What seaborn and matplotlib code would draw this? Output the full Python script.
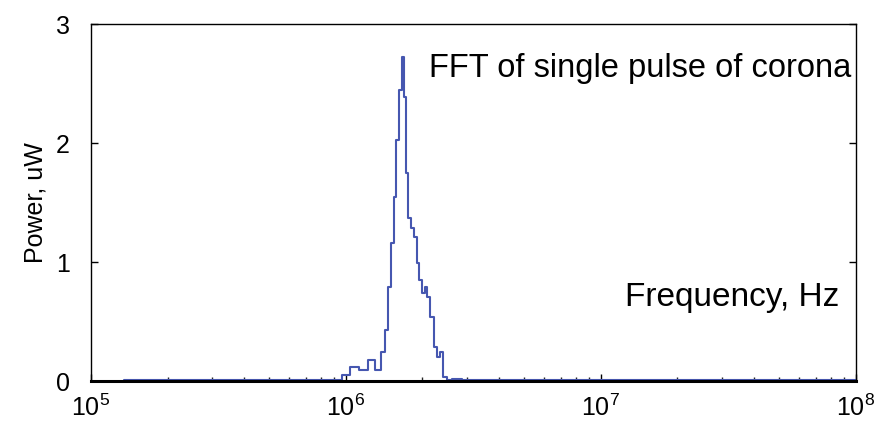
import numpy as np
import pandas as pd
import matplotlib
matplotlib.use('Agg')
import matplotlib.pyplot as plt
import seaborn as sns
from matplotlib.ticker import LogLocator, NullFormatter

# Spectrum (frequency in Hz, power in uW)
freq_hz = [1.35e5, 2.0e5, 3.0e5, 4.5e5, 6.0e5, 7.5e5, 8.5e5, 9.4e5,
           1.00e6, 1.08e6, 1.18e6, 1.26e6, 1.35e6, 1.41e6, 1.45e6, 1.48e6,
           1.52e6, 1.56e6, 1.60e6, 1.65e6, 1.68e6, 1.71e6, 1.74e6, 1.78e6,
           1.83e6, 1.88e6, 1.92e6, 1.97e6, 2.02e6, 2.06e6, 2.12e6, 2.17e6,
           2.25e6, 2.32e6, 2.38e6, 2.44e6, 2.53e6, 2.7e6, 3.0e6, 4.0e6,
           6.0e6, 1.0e7, 2.0e7, 4.0e7, 7.0e7, 1.0e8]
power_uw = [0.008, 0.008, 0.006, 0.008, 0.007, 0.006, 0.008, 0.01,
            0.05, 0.12, 0.09, 0.18, 0.09, 0.24, 0.43, 0.79,
            1.16, 1.55, 2.03, 2.45, 2.72, 2.39, 1.75, 1.37,
            1.29, 1.21, 0.99, 0.85, 0.74, 0.79, 0.71, 0.54,
            0.29, 0.20, 0.24, 0.03, 0.01, 0.02, 0.008, 0.006,
            0.005, 0.006, 0.005, 0.006, 0.005, 0.005]

df = pd.DataFrame({'freq': freq_hz, 'power': power_uw})

sns.set_theme(style='ticks')
plt.rcParams['font.family'] = ['Liberation Sans', 'DejaVu Sans']
plt.rcParams['mathtext.default'] = 'regular'

fig = plt.figure(figsize=(8.82, 4.32), dpi=100)
ax = fig.add_axes([0.103, 0.118, 0.867, 0.826])

sns.lineplot(data=df, x='freq', y='power', ax=ax, color='#4657b0',
             linewidth=1.5, drawstyle='steps-mid', estimator=None)

ax.set_xscale('log')
ax.set_xlim(1e5, 1e8)
ax.set_ylim(0, 3)
ax.set_yticks([0, 1, 2, 3])
ax.xaxis.set_minor_locator(LogLocator(base=10, subs=np.arange(2, 10)))
ax.xaxis.set_minor_formatter(NullFormatter())

ax.set_xlabel('')
ax.set_ylabel('Power, uW', fontsize=18, labelpad=6, color='black')

ax.tick_params(axis='both', which='major', direction='in', length=5,
               width=1, labelsize=18, colors='black', right=True)
ax.tick_params(axis='x', which='major', pad=10)
ax.tick_params(axis='y', which='major', pad=15)
ax.tick_params(axis='x', which='minor', direction='in', length=3, width=1)

for side in ['left', 'right', 'top', 'bottom']:
    ax.spines[side].set_visible(True)
    ax.spines[side].set_color('black')
ax.spines['bottom'].set_linewidth(2.2)
ax.spines['left'].set_linewidth(1)
ax.spines['right'].set_linewidth(1)
ax.spines['top'].set_linewidth(1)

ax.text(0.995, 0.877, 'FFT of single pulse of corona', transform=ax.transAxes,
        ha='right', va='center', fontsize=23.5, color='black')
ax.text(0.979, 0.235, 'Frequency, Hz', transform=ax.transAxes,
        ha='right', va='center', fontsize=24, color='black')

fig.savefig('out.png', dpi=100)
